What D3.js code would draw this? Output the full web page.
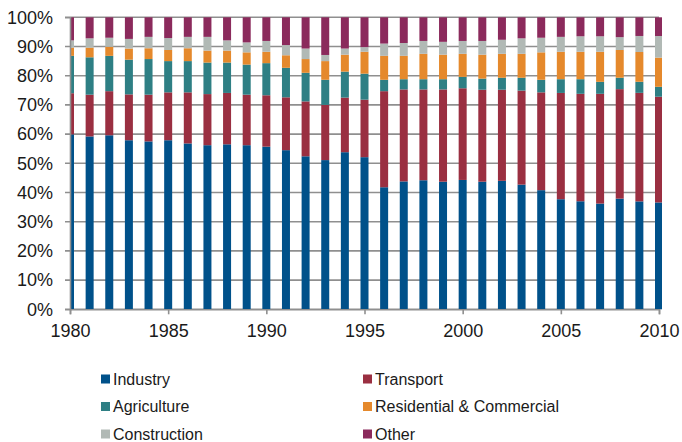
<!DOCTYPE html>
<html><head><meta charset="utf-8">
<script src="https://cdn.jsdelivr.net/npm/d3@7/dist/d3.min.js"></script>
<style>
html,body{margin:0;padding:0;background:#fff;}
svg{display:block;font-family:"Liberation Sans",Arial,sans-serif;}
</style></head>
<body><svg id="chart" width="682" height="442"></svg>
<script>
const years = d3.range(1980, 2011);
const seriesNames = ["Industry","Transport","Agriculture","Residential & Commercial","Construction","Other"];
const colors = ["#00518a","#9a2f41","#2e7f84","#e5892c","#b1b9b5","#8b2a5c"];
const industry    = [59.9,59.2,59.6,57.9,57.5,57.9,56.8,56.2,56.5,56.2,55.7,54.5,52.4,51.1,53.8,52.1,41.8,43.8,44.2,43.7,44.3,43.7,44.0,42.7,40.8,37.7,37.0,36.2,37.9,37.0,36.6];
const transport   = [14.1,14.3,15.1,15.7,16.0,16.4,17.5,17.5,17.6,17.3,17.6,18.1,18.8,18.9,18.7,19.7,32.9,31.5,31.1,31.6,31.4,31.5,31.2,32.2,33.5,36.4,36.8,37.6,37.5,37.2,36.2];
const agriculture = [12.8,12.8,12.1,11.9,12.2,10.7,10.7,10.8,10.4,10.3,11.0,10.1,9.8,8.6,8.9,8.9,3.9,3.5,3.5,3.5,3.9,3.8,4.1,4.4,4.3,4.7,5.0,4.1,3.9,3.8,3.4];
const residential = [2.8,3.3,3.1,3.8,3.7,3.8,4.4,4.1,4.1,4.2,3.9,4.3,4.7,6.4,5.8,7.5,8.2,8.0,8.7,8.4,7.9,8.2,8.2,8.2,9.4,9.4,9.4,10.3,9.5,10.2,10.0];
const construction= [2.5,3.2,3.1,3.3,3.9,4.1,3.9,4.7,3.5,3.4,3.7,3.5,3.6,2.1,2.1,1.6,4.2,4.4,4.4,4.4,4.4,4.7,4.8,5.3,5.0,5.1,5.3,5.3,4.4,5.5,7.4];
const other       = [7.9,7.2,7.0,7.4,6.7,7.1,6.7,6.7,7.9,8.6,8.1,9.5,10.7,12.9,10.7,10.2,9.0,8.8,8.1,8.4,8.1,8.1,7.7,7.2,7.0,6.7,6.5,6.5,6.8,6.4,6.4];
const yTicks = d3.range(0, 11).map(d => d / 10);
const xTicks = [1980,1985,1990,1995,2000,2005,2010];

const rows = years.map((yr, i) => {
  const vals = [industry[i],transport[i],agriculture[i],residential[i],construction[i],other[i]];
  const tot = d3.sum(vals);
  const r = {year: yr};
  seriesNames.forEach((s, k) => r[s] = vals[k] / tot);
  return r;
});
const stacked = d3.stack().keys(seriesNames)(rows);

const svg = d3.select("#chart");
const pLeft = 70, pRight = 659, pTop = 17.3, pBottom = 309.3;
const x = d3.scaleLinear().domain([1980, 2010]).range([pLeft, pRight]);
const y = d3.scaleLinear().domain([0, 1]).range([pBottom, pTop]);
const barW = 8;

svg.append("defs").append("clipPath").attr("id","clip")
  .append("rect").attr("x", pLeft).attr("y", 0).attr("width", pRight - pLeft + 3).attr("height", 442);

// gridlines
svg.append("g").selectAll("line").data(yTicks).join("line")
  .attr("x1", pLeft - 5).attr("x2", pRight)
  .attr("y1", d => y(d)).attr("y2", d => y(d))
  .attr("stroke", "#8f8f8f").attr("stroke-width", 1.6);

// bars
const gb = svg.append("g").attr("clip-path","url(#clip)");
stacked.forEach((layer, k) => {
  gb.append("g").attr("fill", colors[k]).selectAll("rect").data(layer).join("rect")
    .attr("x", d => x(d.data.year) - barW / 2)
    .attr("width", barW)
    .attr("y", d => y(d[1]))
    .attr("height", d => y(d[0]) - y(d[1]));
});

// y axis
const ya = svg.append("g").attr("transform", `translate(${pLeft},0)`)
  .call(d3.axisLeft(y).tickValues(yTicks).tickFormat(d3.format(".0%")).tickSize(5).tickPadding(12));
ya.select(".domain").attr("stroke", "#8f8f8f").attr("stroke-width", 1.6);
ya.selectAll(".tick line").remove();
ya.selectAll("text").attr("font-size", "18px").attr("fill", "#1a1a1a").attr("font-family", '"Liberation Sans",Arial,sans-serif');

// x axis
const xa = svg.append("g").attr("transform", `translate(0,${pBottom})`)
  .call(d3.axisBottom(x).tickValues(xTicks).tickFormat(d3.format("d")).tickSize(5).tickPadding(10));
xa.select(".domain").attr("stroke", "#8f8f8f").attr("stroke-width", 1.6);
xa.selectAll(".tick line").attr("stroke", "#8f8f8f").attr("stroke-width", 1.6);
xa.selectAll("text").attr("font-size", "18px").attr("fill", "#1a1a1a").attr("font-family", '"Liberation Sans",Arial,sans-serif');

// legend
const legX = [101, 363], legY = [379, 406.5, 434];
const leg = svg.append("g");
seriesNames.forEach((s, k) => {
  const cx = legX[k % 2], cy = legY[Math.floor(k / 2)];
  leg.append("rect").attr("x", cx).attr("y", cy - 4.5).attr("width", 9).attr("height", 9).attr("fill", colors[k]);
  leg.append("text").attr("x", cx + 12).attr("y", cy).attr("dy", "0.36em")
    .attr("font-size", "16px").attr("fill", "#1a1a1a").text(s);
});
</script></body></html>
